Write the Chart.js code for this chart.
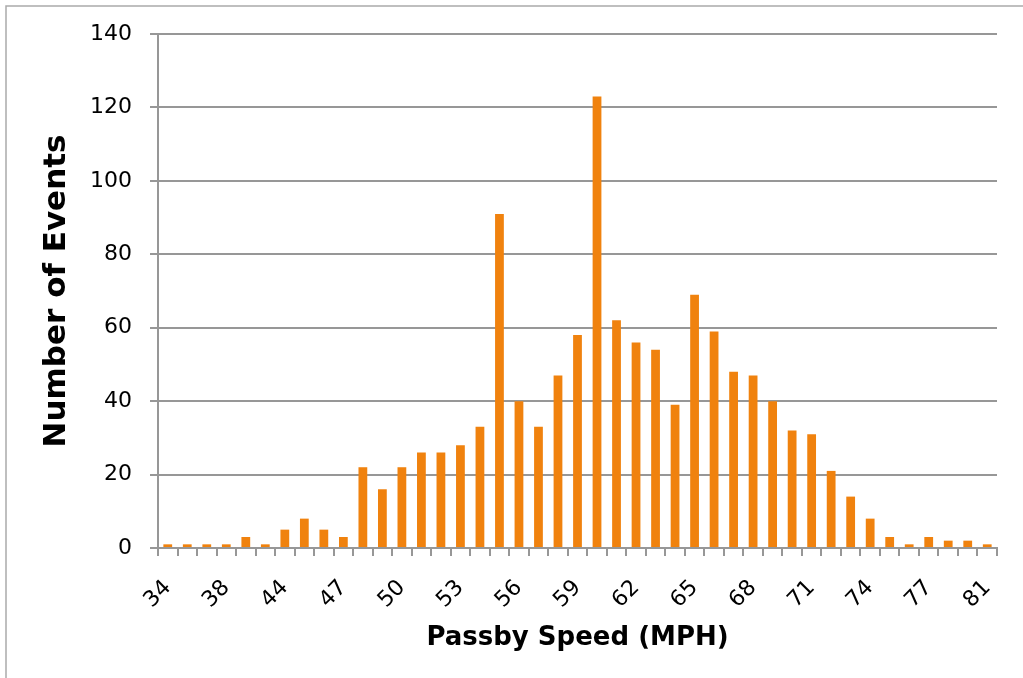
<!DOCTYPE html>
<html>
<head>
<meta charset="utf-8">
<script src="https://cdn.jsdelivr.net/npm/chart.js@4/dist/chart.umd.min.js"></script>
<style>
html,body{margin:0;padding:0;background:#fff;}
#wrap{position:relative;width:1023px;height:678px;overflow:hidden;}
</style>
</head>
<body>
<div id="wrap"><canvas id="c" width="1023" height="678"></canvas></div>
<script>
const speeds = ['34','36','37','38','40','42','44','45','46','47','48','49','50','51','52','53','54','55','56','57','58','59','60','61','62','63','64','65','66','67','68','69','70','71','72','73','74','75','76','77','78','79','81'];
const events = [1,1,1,1,3,1,5,8,5,3,22,16,22,26,26,28,33,91,40,33,47,58,123,62,56,54,39,69,59,48,47,40,32,31,21,14,8,3,1,3,2,2,1];
const yTicks = [0,20,40,60,80,100,120,140];
const xTitle = 'Passby Speed (MPH)';
const yTitle = 'Number of Events';

const FONT = 'DejaVu Sans';
const GRID = '#979797';

const frame = {
  id:'frame',
  beforeDraw(chart){
    const ctx = chart.ctx;
    ctx.save();
    ctx.fillStyle='#fff';
    ctx.fillRect(0,0,chart.width,chart.height);
    ctx.strokeStyle='#aaaaaa';
    ctx.lineWidth=1.5;
    ctx.strokeRect(6,6,1200,1000);
    ctx.restore();
  }
};

new Chart(document.getElementById('c'), {
  type:'bar',
  data:{
    labels: speeds,
    datasets:[{
      data: events,
      backgroundColor:'#F0820E',
      borderWidth:0,
      categoryPercentage:1.0,
      barPercentage:0.45
    }]
  },
  options:{
    responsive:false,
    animation:false,
    plugins:{legend:{display:false}, tooltip:{enabled:false}},
    layout:{padding:{left:0,top:34,right:26,bottom:0}},
    scales:{
      x:{
        afterFit(s){ s.height = 130; s.paddingLeft = 0; s.paddingRight = 0; },
        grid:{display:true, drawOnChartArea:false, drawTicks:true, offset:true, tickLength:8, color:GRID, lineWidth:2},
        border:{display:true, color:GRID, width:2},
        ticks:{
          autoSkip:false, minRotation:45, maxRotation:45, padding:19,
          color:'#000', font:{family:FONT, size:22},
          callback(v,i){ return i % 3 === 0 ? speeds[i] : ''; }
        },
        title:{display:true, text:xTitle, color:'#000', font:{family:FONT, size:26, weight:'bold'}, padding:{top:0,bottom:24}}
      },
      y:{
        min:0, max:140,
        afterFit(s){ s.width = 158; s.paddingTop = 0; s.paddingBottom = 0; },
        afterBuildTicks(s){ s.ticks = yTicks.map(v=>({value:v})); },
        grid:{color:GRID, lineWidth:2, tickLength:8},
        border:{display:true, color:GRID, width:2},
        ticks:{padding:18, color:'#000', font:{family:FONT, size:22}},
        title:{display:true, text:yTitle, color:'#000', font:{family:FONT, size:31, weight:'bold'}, padding:{top:38,bottom:0}}
      }
    }
  },
  plugins:[frame]
});
</script>
</body>
</html>
